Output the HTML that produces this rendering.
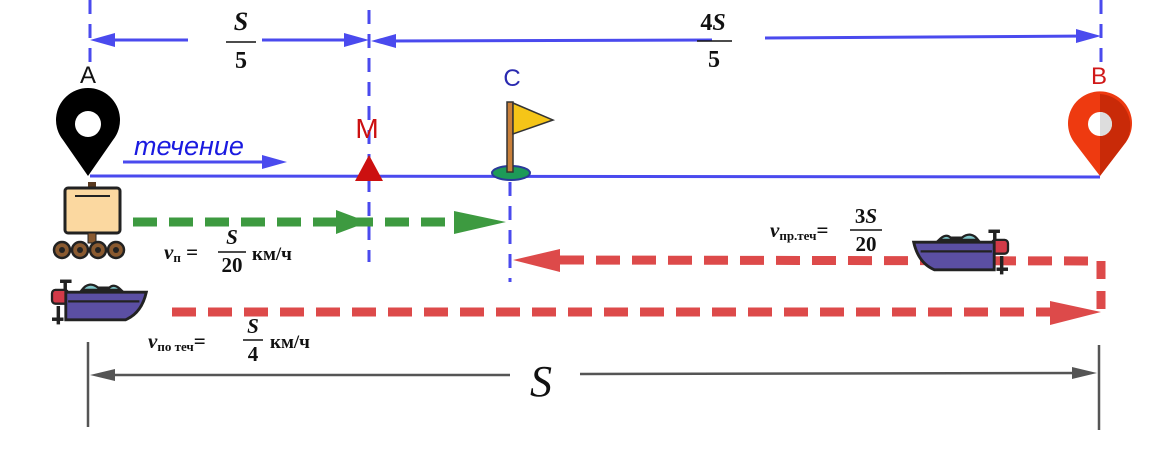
<!DOCTYPE html>
<html><head><meta charset="utf-8"><style>
html,body{margin:0;padding:0;background:#fff;}
svg{display:block;}
.m{font-family:"Liberation Serif",serif;font-weight:bold;fill:#111;}
.mi{font-family:"Liberation Serif",serif;font-style:italic;font-weight:bold;fill:#111;}
.s{font-family:"Liberation Sans",sans-serif;}
</style></head><body>
<svg width="1154" height="458" viewBox="0 0 1154 458" xmlns="http://www.w3.org/2000/svg">
<defs>
<g id="boat">
  <rect x="-30" y="-22" width="3" height="16" fill="#222"/>
  <rect x="-33" y="-23" width="10" height="3" fill="#222"/>
  <path d="M-14,-14 q6,-8 14,-2 l10,0 q4,-4 10,2 z" fill="#7fc6c9" stroke="#222" stroke-width="2"/>
  <rect x="-40" y="-14" width="14" height="12" rx="3" fill="#d23a48" stroke="#222" stroke-width="2"/>
  <path d="M-28,-12 L42,-12 Q38,6 24,12 L-28,12 Z" fill="#5b4fa3" stroke="#222" stroke-width="2.5"/>
  <line x1="-26" y1="-4" x2="36" y2="-4" stroke="#222" stroke-width="2"/>
  <rect x="-36" y="0" width="3" height="16" fill="#222"/>
  <rect x="-40" y="10" width="10" height="3" fill="#222"/>
</g>
</defs>

<g stroke="#4a4aee" stroke-width="3" stroke-dasharray="14,10">
  <line x1="90" y1="0" x2="90" y2="62"/>
  <line x1="369" y1="10" x2="369" y2="262"/>
  <line x1="1101" y1="0" x2="1101" y2="62"/>
  <line x1="510" y1="182" x2="510" y2="282"/>
</g>

<g stroke="#4a4aee" stroke-width="3" fill="#4a4aee">
  <line x1="105" y1="40" x2="188" y2="40"/>
  <polygon points="90,40 115,33 115,47" stroke="none"/>
  <line x1="262" y1="40" x2="355" y2="40"/>
  <polygon points="369,40 344,33 344,47" stroke="none"/>
  <line x1="385" y1="41" x2="712" y2="40"/>
  <polygon points="371,41 396,34 396,48" stroke="none"/>
  <line x1="765" y1="38" x2="1090" y2="36"/>
  <polygon points="1101,36 1076,29 1076,43" stroke="none"/>
</g>
<text class="mi" x="241" y="30" font-size="26" text-anchor="middle">S</text>
<line x1="226" y1="42" x2="256" y2="42" stroke="#111" stroke-width="1.5"/>
<text class="m" x="241" y="68" font-size="24" text-anchor="middle">5</text>
<text class="m" x="713" y="30" font-size="24" text-anchor="middle">4<tspan class="mi">S</tspan></text>
<line x1="697" y1="41" x2="732" y2="41" stroke="#111" stroke-width="1.5"/>
<text class="m" x="714" y="67" font-size="24" text-anchor="middle">5</text>

<text class="s" x="88" y="83" font-size="24" text-anchor="middle" fill="#111">A</text>
<text class="s" x="512" y="86" font-size="24" text-anchor="middle" fill="#2a2ab0">C</text>
<text class="s" x="1099" y="84" font-size="24" text-anchor="middle" fill="#d01818">B</text>
<text class="s" x="367" y="138" font-size="28" text-anchor="middle" fill="#cc1010">M</text>

<line x1="90" y1="176" x2="1100" y2="177" stroke="#4a4aee" stroke-width="3"/>
<text class="s" x="134" y="155" font-size="27" font-style="italic" fill="#1a1ae0">течение</text>
<line x1="123" y1="162" x2="270" y2="162" stroke="#4a4aee" stroke-width="3"/>
<polygon points="287,162 262,155 262,169" fill="#4a4aee"/>

<path d="M88,176 L63,140 A32,32 0 1 1 113,140 Z" fill="#000"/>
<circle cx="88" cy="124" r="13" fill="#fff"/>
<path d="M1100,176 L1074,142 A32,32 0 1 1 1126,142 Z" fill="#ee3a10"/>
<path d="M1100,176 L1100,94 A32,32 0 0 1 1126,142 Z" fill="#c92a08"/>
<circle cx="1100" cy="124" r="12" fill="#fff"/>
<path d="M1100,112 A12,12 0 0 1 1100,136 Z" fill="#ddd"/>

<polygon points="369,155 355,181 383,181" fill="#cc1010"/>

<ellipse cx="511" cy="173" rx="19" ry="7" fill="#1d9a58" stroke="#2a3a9a" stroke-width="2"/>
<rect x="507" y="102" width="6" height="70" fill="#c9803a" stroke="#333" stroke-width="1.5"/>
<polygon points="513,103 553,120 513,134" fill="#f5c518" stroke="#333" stroke-width="1.5"/>

<g>
  <rect x="88" y="182" width="8" height="8" fill="#5a3a20"/>
  <rect x="65" y="188" width="55" height="45" rx="3" fill="#fbd8a0" stroke="#222" stroke-width="3"/>
  <line x1="75" y1="196" x2="110" y2="196" stroke="#222" stroke-width="2"/>
  <rect x="88" y="233" width="8" height="10" fill="#8a5a30" stroke="#222" stroke-width="1"/>
  <g fill="#8a5a30" stroke="#222" stroke-width="2.5">
    <circle cx="62" cy="250" r="8"/><circle cx="80" cy="250" r="8"/><circle cx="98" cy="250" r="8"/><circle cx="116" cy="250" r="8"/>
  </g>
  <g fill="#222"><circle cx="62" cy="250" r="3"/><circle cx="80" cy="250" r="3"/><circle cx="98" cy="250" r="3"/><circle cx="116" cy="250" r="3"/></g>
</g>

<line x1="133" y1="222" x2="470" y2="222" stroke="#3d9a40" stroke-width="9" stroke-dasharray="24,12"/>
<polygon points="368,222 336,210 336,234" fill="#3d9a40"/>
<polygon points="506,222 454,211 454,234" fill="#3d9a40"/>

<g stroke="#dd4a4a" stroke-width="9" fill="none">
  <line x1="560" y1="260" x2="1100" y2="261" stroke-dasharray="24,12"/>
  <line x1="1101" y1="261" x2="1101" y2="312" stroke-dasharray="18,12"/>
  <line x1="172" y1="312" x2="1060" y2="312" stroke-dasharray="24,12"/>
</g>
<polygon points="513,260 560,249 560,272" fill="#dd4a4a"/>
<polygon points="1101,312 1050,301 1050,325" fill="#dd4a4a"/>

<g transform="translate(98,306) scale(1.15)"><use href="#boat"/></g>
<g transform="translate(962,256) scale(-1.15,1.15)"><use href="#boat"/></g>

<text class="mi" x="164" y="259" font-size="21">v<tspan class="m" font-size="13" font-style="normal" dy="3">п</tspan><tspan dy="-3" font-style="normal"> =</tspan></text>
<text class="mi" x="232" y="244" font-size="21" text-anchor="middle">S</text>
<line x1="218" y1="252" x2="246" y2="252" stroke="#111" stroke-width="1.5"/>
<text class="m" x="232" y="272" font-size="21" text-anchor="middle">20</text>
<text class="m" x="252" y="260" font-size="19">км/ч</text>

<text class="mi" x="148" y="348" font-size="21">v<tspan class="m" font-size="13" font-style="normal" dy="3">по теч</tspan><tspan dy="-3" font-style="normal">=</tspan></text>
<text class="mi" x="253" y="333" font-size="21" text-anchor="middle">S</text>
<line x1="243" y1="340" x2="263" y2="340" stroke="#111" stroke-width="1.5"/>
<text class="m" x="253" y="361" font-size="21" text-anchor="middle">4</text>
<text class="m" x="270" y="348" font-size="19">км/ч</text>

<text class="mi" x="770" y="237" font-size="21">v<tspan class="m" font-size="13" font-style="normal" dy="3">пр.теч</tspan><tspan dy="-3" font-style="normal">=</tspan></text>
<text class="m" x="866" y="223" font-size="21" text-anchor="middle">3<tspan class="mi">S</tspan></text>
<line x1="850" y1="230" x2="882" y2="230" stroke="#111" stroke-width="1.5"/>
<text class="m" x="866" y="251" font-size="21" text-anchor="middle">20</text>

<g stroke="#555" stroke-width="2.5">
  <line x1="88" y1="342" x2="88" y2="427"/>
  <line x1="1099" y1="345" x2="1099" y2="430"/>
  <line x1="100" y1="375" x2="510" y2="375"/>
  <line x1="580" y1="374" x2="1085" y2="373"/>
</g>
<polygon points="90,375 115,369 115,381" fill="#555"/>
<polygon points="1097,373 1072,367 1072,379" fill="#555"/>
<text x="541" y="396" font-size="44" font-style="italic" font-family="Liberation Serif,serif" fill="#111" text-anchor="middle">S</text>
</svg>
</body></html>
